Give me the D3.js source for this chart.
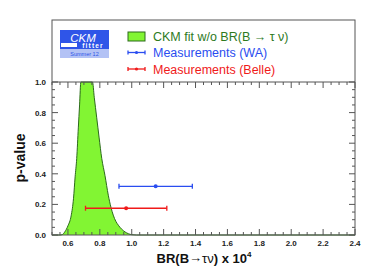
<!DOCTYPE html>
<html>
<head>
<meta charset="utf-8">
<script src="https://cdn.jsdelivr.net/npm/d3@7"></script>
<style>
  body { margin: 0; background: #fff; }
  text { font-family: "Liberation Sans", Arial, sans-serif; }
</style>
</head>
<body>
<div id="chart"></div>
<script>
// chart size
var svgWidth = 374;
var svgHeight = 273;

// CKM fit p-value curve (BR x 1e4, p-value)
var fitX = [0.50, 0.55, 0.565, 0.58, 0.60, 0.62, 0.635, 0.645, 0.655, 0.665, 0.673, 0.681,
            0.754, 0.765, 0.78, 0.795, 0.812, 0.832, 0.853, 0.87, 0.884, 0.90, 0.916,
            0.935, 0.958, 0.98, 1.00, 1.03, 2.40];
var fitP = [0, 0, 0.003, 0.02, 0.06, 0.125, 0.24, 0.38, 0.50, 0.70, 0.85, 1.0,
            1.0, 0.90, 0.77, 0.64, 0.50, 0.39, 0.26, 0.18, 0.13, 0.09, 0.064,
            0.04, 0.02, 0.008, 0.002, 0, 0];

// measurements: [low, central, high] and p position
var measNames = ["Measurements (WA)", "Measurements (Belle)"];
var measLow = [0.92, 0.71];
var measCentral = [1.15, 0.965];
var measHigh = [1.38, 1.22];
var measP = [0.318, 0.175];
var measColors = ["#2a4df0", "#f01a1a"];

var xTicks = [0.6, 0.8, 1.0, 1.2, 1.4, 1.6, 1.8, 2.0, 2.2, 2.4];
var yTicks = [0.0, 0.2, 0.4, 0.6, 0.8, 1.0];

// frame
var frame = { left: 52, right: 355, top: 20, bottom: 235, yTop: 82 };

var svg = d3.select("#chart")
  .append("svg")
  .attr("width", svgWidth)
  .attr("height", svgHeight);

var x = d3.scaleLinear().domain([0.5, 2.4]).range([frame.left, frame.right]);
var y = d3.scaleLinear().domain([0, 1]).range([frame.bottom, frame.yTop]);

var fitData = fitX.map((d, i) => ({ x: d, p: fitP[i] }));

// green fit area
var area = d3.area()
  .x(d => x(d.x))
  .y0(y(0))
  .y1(d => y(d.p))
  .curve(d3.curveMonotoneX);
var line = d3.line()
  .x(d => x(d.x))
  .y(d => y(d.p))
  .curve(d3.curveMonotoneX);

svg.append("path")
  .datum(fitData)
  .attr("d", area)
  .attr("fill", "#82f533");
svg.append("path")
  .datum(fitData)
  .attr("d", line)
  .attr("fill", "none")
  .attr("stroke", "#2c6a1c")
  .attr("stroke-width", 1);

// frame lines
var frameColor = "#555";
svg.append("rect")
  .attr("x", frame.left)
  .attr("y", frame.top)
  .attr("width", frame.right - frame.left)
  .attr("height", frame.bottom - frame.top)
  .attr("fill", "none")
  .attr("stroke", frameColor)
  .attr("stroke-width", 1);
svg.append("line")
  .attr("x1", frame.left).attr("x2", frame.right)
  .attr("y1", frame.yTop).attr("y2", frame.yTop)
  .attr("stroke", frameColor);

// tick marks (major 0.2, minor 0.05), pointing inward
var xMinor = d3.range(0.5, 2.4001, 0.05);
var yMinor = d3.range(0, 1.0001, 0.05);
function isMajor(v) { return Math.abs(v * 5 - Math.round(v * 5)) < 1e-6; }

var ticks = svg.append("g").attr("stroke", frameColor).attr("stroke-width", 1);
xMinor.forEach(v => {
  var len = isMajor(v) ? 6 : 3;
  ticks.append("line").attr("x1", x(v)).attr("x2", x(v))
    .attr("y1", y(0)).attr("y2", y(0) - len);
  ticks.append("line").attr("x1", x(v)).attr("x2", x(v))
    .attr("y1", y(1)).attr("y2", y(1) + len);
});
yMinor.forEach(v => {
  var len = isMajor(v) ? 6 : 3;
  ticks.append("line").attr("x1", frame.left).attr("x2", frame.left + len)
    .attr("y1", y(v)).attr("y2", y(v));
  ticks.append("line").attr("x1", frame.right).attr("x2", frame.right - len)
    .attr("y1", y(v)).attr("y2", y(v));
});

// tick labels
svg.append("g").selectAll("text")
  .data(xTicks)
  .enter()
  .append("text")
  .attr("x", d => x(d))
  .attr("y", 246)
  .attr("text-anchor", "middle")
  .attr("font-size", 8)
  .attr("font-weight", "bold")
  .attr("fill", "#222")
  .text(d => d.toFixed(1));
svg.append("g").selectAll("text")
  .data(yTicks)
  .enter()
  .append("text")
  .attr("x", 46)
  .attr("y", d => y(d) + 3)
  .attr("text-anchor", "end")
  .attr("font-size", 8)
  .attr("font-weight", "bold")
  .attr("fill", "#222")
  .text(d => d.toFixed(1));

// axis titles
svg.append("text")
  .attr("transform", "translate(25, 158) rotate(-90)")
  .attr("text-anchor", "middle")
  .attr("font-size", 14)
  .attr("font-weight", "bold")
  .attr("fill", "#111")
  .text("p-value");

var xTitle = svg.append("text")
  .attr("x", 204)
  .attr("y", 263)
  .attr("text-anchor", "middle")
  .attr("font-size", 13)
  .attr("font-weight", "bold")
  .attr("fill", "#111");
xTitle.append("tspan").text("BR(B");
xTitle.append("tspan").attr("font-weight", "normal").attr("dy", -1).text("\u2192");
xTitle.append("tspan").attr("font-weight", "normal").attr("dy", 1).text("\u03c4\u03bd");
xTitle.append("tspan").text(") x 10");
xTitle.append("tspan").attr("font-size", 8).attr("dy", -6).text("4");

// measurement error bars
var bars = svg.append("g");
measNames.forEach((name, i) => {
  var g = bars.append("g").attr("stroke", measColors[i]).attr("stroke-width", 1.3);
  var py = y(measP[i]);
  g.append("line").attr("x1", x(measLow[i])).attr("x2", x(measHigh[i]))
    .attr("y1", py).attr("y2", py);
  [measLow[i], measHigh[i]].forEach(v => {
    g.append("line").attr("x1", x(v)).attr("x2", x(v))
      .attr("y1", py - 2.5).attr("y2", py + 2.5);
  });
  bars.append("circle").attr("cx", x(measCentral[i])).attr("cy", py)
    .attr("r", 2).attr("fill", measColors[i]);
});

// legend
var legend = svg.append("g");
legend.append("rect")
  .attr("x", 128).attr("y", 32).attr("width", 17).attr("height", 9)
  .attr("fill", "#82f533").attr("stroke", "#2c6a1c").attr("stroke-width", 1);
legend.append("text")
  .attr("x", 153).attr("y", 40.5)
  .attr("font-size", 12.5)
  .attr("fill", "#2e7a1e")
  .text("CKM fit w/o BR(B \u2192 \u03c4 \u03bd)");
measNames.forEach((name, i) => {
  var ly = 52.5 + i * 16.5;
  var g = legend.append("g").attr("stroke", measColors[i]).attr("stroke-width", 1.3);
  g.append("line").attr("x1", 128).attr("x2", 145).attr("y1", ly).attr("y2", ly);
  g.append("line").attr("x1", 128).attr("x2", 128).attr("y1", ly - 2).attr("y2", ly + 2);
  g.append("line").attr("x1", 145).attr("x2", 145).attr("y1", ly - 2).attr("y2", ly + 2);
  legend.append("circle").attr("cx", 136.5).attr("cy", ly).attr("r", 1.6).attr("fill", measColors[i]);
  legend.append("text")
    .attr("x", 153).attr("y", ly + 4.5)
    .attr("font-size", 12.5)
    .attr("fill", measColors[i])
    .text(name);
});

// CKMfitter logo
var logo = svg.append("g");
logo.append("rect").attr("x", 60).attr("y", 30).attr("width", 49).attr("height", 19).attr("fill", "#2f55e8");
logo.append("rect").attr("x", 60).attr("y", 49).attr("width", 49).attr("height", 9).attr("fill", "#b3c2f5");
logo.append("rect").attr("x", 61).attr("y", 43).attr("width", 16).attr("height", 4).attr("fill", "#fff");
logo.append("text")
  .attr("x", 83).attr("y", 41.5)
  .attr("text-anchor", "middle")
  .attr("font-size", 11.5)
  .attr("font-style", "italic")
  .attr("fill", "#fff")
  .text("CKM");
logo.append("text")
  .attr("x", 93).attr("y", 48.3)
  .attr("text-anchor", "middle")
  .attr("font-size", 6.5)
  .attr("font-weight", "bold")
  .attr("letter-spacing", 1.2)
  .attr("fill", "#fff")
  .text("fitter");
logo.append("text")
  .attr("x", 84.5).attr("y", 56)
  .attr("text-anchor", "middle")
  .attr("font-size", 5.5)
  .attr("fill", "#2f55e8")
  .text("Summer 12");
</script>
</body>
</html>
